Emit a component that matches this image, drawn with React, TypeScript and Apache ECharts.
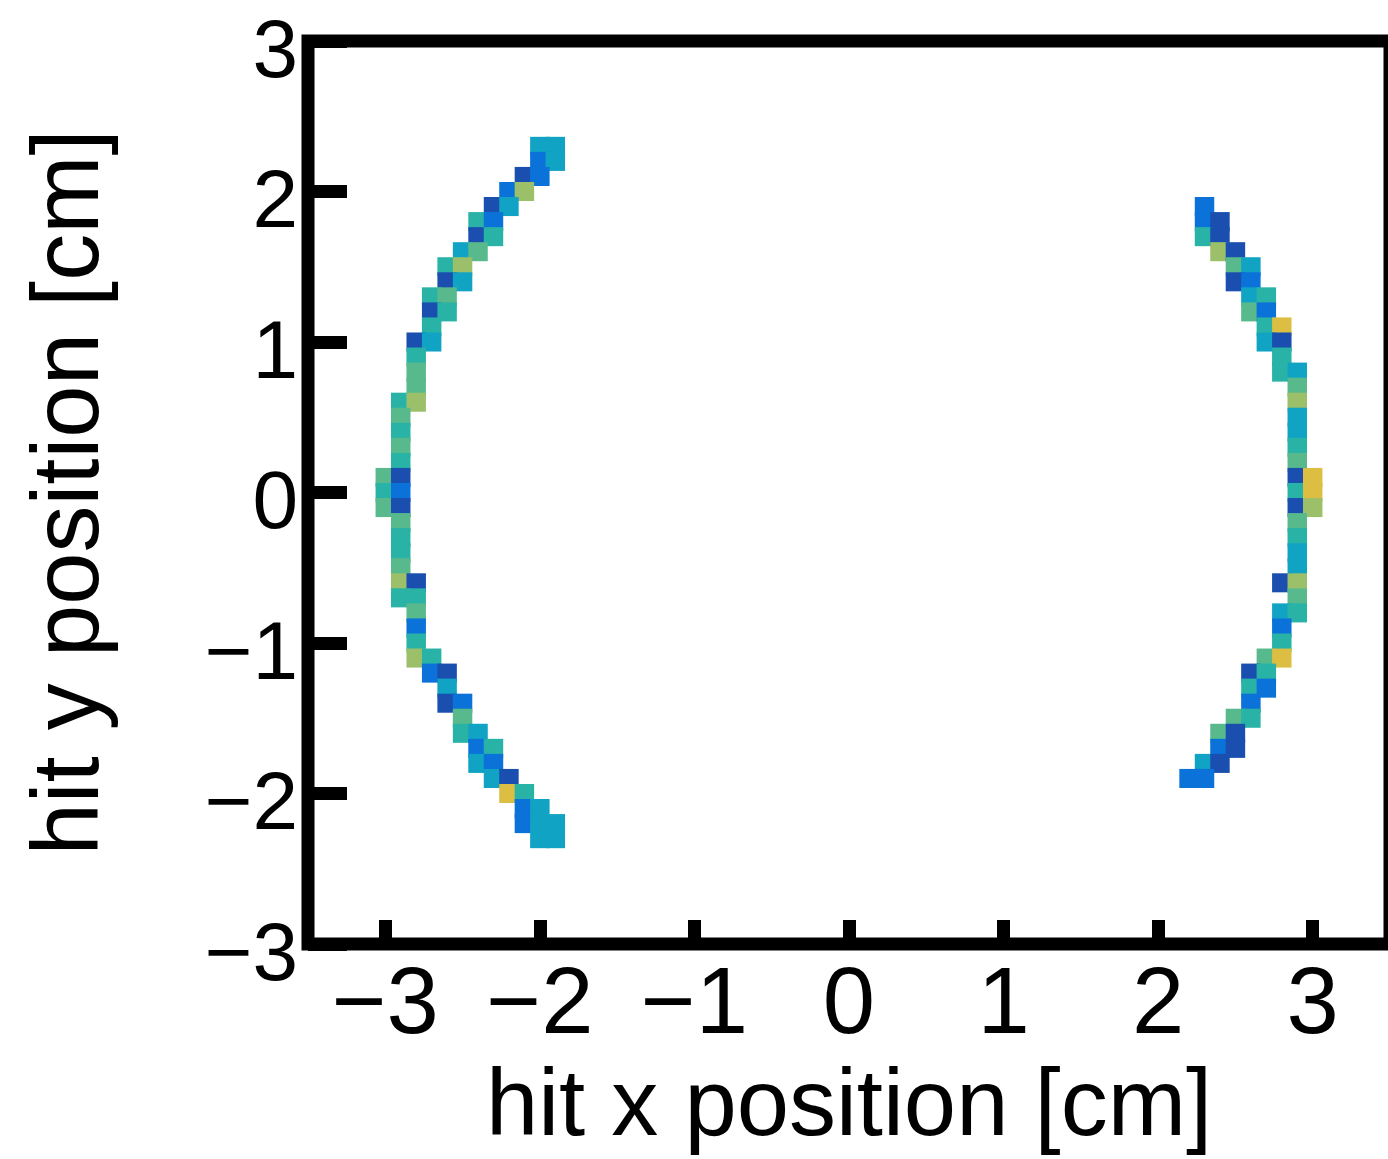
import React, { useEffect, useRef } from 'react';
import * as echarts from 'echarts';

// bin size of the 2D histogram (cm)
const BIN = 0.1;
const X_MIN = -3.5;
const X_MAX = 3.5;
const Y_MIN = -3;
const Y_MAX = 3;
const X_TICKS = [-3, -2, -1, 0, 1, 2, 3];
const Y_TICKS = [-3, -2, -1, 0, 1, 2, 3];
const X_TITLE = 'hit x position [cm]';
const Y_TITLE = 'hit y position [cm]';

// parula-like colour scale (low -> high counts)
const COLOR_STOPS = ['#1a4fb0', '#0a72d8', '#11a3c4', '#28b3a6', '#58ba8c', '#9cc06a', '#dcbf42', '#f2e02a'];
const VALUE_MIN = 1;
const VALUE_MAX = 8;

// [bin centre x, bin centre y, counts]
const leftArcCells: [number, number, number][] = [
  [-2.0, 2.3, 3], [-1.9, 2.3, 3],
  [-2.0, 2.2, 2], [-1.9, 2.2, 3],
  [-2.1, 2.1, 1], [-2.0, 2.1, 2],
  [-2.2, 2.0, 2], [-2.1, 2.0, 6],
  [-2.3, 1.9, 1], [-2.2, 1.9, 3],
  [-2.4, 1.8, 4], [-2.3, 1.8, 2],
  [-2.4, 1.7, 1], [-2.3, 1.7, 4],
  [-2.5, 1.6, 3], [-2.4, 1.6, 5],
  [-2.6, 1.5, 4], [-2.5, 1.5, 6],
  [-2.6, 1.4, 1], [-2.5, 1.4, 3],
  [-2.7, 1.3, 4], [-2.6, 1.3, 5],
  [-2.7, 1.2, 1], [-2.6, 1.2, 4],
  [-2.7, 1.1, 4],
  [-2.8, 1.0, 1], [-2.7, 1.0, 3],
  [-2.8, 0.9, 4],
  [-2.8, 0.8, 5],
  [-2.8, 0.7, 5],
  [-2.9, 0.6, 4], [-2.8, 0.6, 6],
  [-2.9, 0.5, 5],
  [-2.9, 0.4, 4],
  [-2.9, 0.3, 5],
  [-2.9, 0.2, 4],
  [-3.0, 0.1, 5], [-2.9, 0.1, 1],
  [-3.0, 0.0, 4], [-2.9, 0.0, 2],
  [-3.0, -0.1, 5], [-2.9, -0.1, 1],
  [-2.9, -0.2, 5],
  [-2.9, -0.3, 4],
  [-2.9, -0.4, 4],
  [-2.9, -0.5, 5],
  [-2.9, -0.6, 6], [-2.8, -0.6, 1],
  [-2.9, -0.7, 4], [-2.8, -0.7, 4],
  [-2.8, -0.8, 5],
  [-2.8, -0.9, 2],
  [-2.8, -1.0, 4],
  [-2.8, -1.1, 6], [-2.7, -1.1, 4],
  [-2.7, -1.2, 2], [-2.6, -1.2, 1],
  [-2.6, -1.3, 3],
  [-2.6, -1.4, 1], [-2.5, -1.4, 2],
  [-2.5, -1.5, 5],
  [-2.5, -1.6, 4], [-2.4, -1.6, 3],
  [-2.4, -1.7, 2], [-2.3, -1.7, 4],
  [-2.4, -1.8, 3], [-2.3, -1.8, 2],
  [-2.3, -1.9, 3], [-2.2, -1.9, 1],
  [-2.2, -2.0, 7], [-2.1, -2.0, 4],
  [-2.1, -2.1, 2], [-2.0, -2.1, 3],
  [-2.1, -2.2, 2], [-2.0, -2.2, 3], [-1.9, -2.2, 3],
  [-2.0, -2.3, 3], [-1.9, -2.3, 3],
];

const rightArcCells: [number, number, number][] = [
  [2.3, 1.9, 2],
  [2.3, 1.8, 2], [2.4, 1.8, 1],
  [2.3, 1.7, 4], [2.4, 1.7, 1],
  [2.4, 1.6, 6], [2.5, 1.6, 1],
  [2.5, 1.5, 5], [2.6, 1.5, 3],
  [2.5, 1.4, 1], [2.6, 1.4, 2],
  [2.6, 1.3, 3], [2.7, 1.3, 4],
  [2.6, 1.2, 5], [2.7, 1.2, 2],
  [2.7, 1.1, 4], [2.8, 1.1, 7],
  [2.7, 1.0, 3], [2.8, 1.0, 1],
  [2.8, 0.9, 4],
  [2.8, 0.8, 4], [2.9, 0.8, 3],
  [2.9, 0.7, 5],
  [2.9, 0.6, 6],
  [2.9, 0.5, 3],
  [2.9, 0.4, 3],
  [2.9, 0.3, 4],
  [2.9, 0.2, 5],
  [2.9, 0.1, 1], [3.0, 0.1, 7],
  [2.9, 0.0, 4], [3.0, 0.0, 7],
  [2.9, -0.1, 1], [3.0, -0.1, 6],
  [2.9, -0.2, 5],
  [2.9, -0.3, 4],
  [2.9, -0.4, 3],
  [2.9, -0.5, 3],
  [2.8, -0.6, 1], [2.9, -0.6, 6],
  [2.9, -0.7, 5],
  [2.8, -0.8, 3], [2.9, -0.8, 4],
  [2.8, -0.9, 2],
  [2.8, -1.0, 4],
  [2.7, -1.1, 5], [2.8, -1.1, 7],
  [2.6, -1.2, 1], [2.7, -1.2, 4],
  [2.6, -1.3, 4], [2.7, -1.3, 2],
  [2.6, -1.4, 2],
  [2.5, -1.5, 5], [2.6, -1.5, 4],
  [2.4, -1.6, 5], [2.5, -1.6, 1],
  [2.4, -1.7, 2], [2.5, -1.7, 1],
  [2.3, -1.8, 3], [2.4, -1.8, 1],
  [2.2, -1.9, 2], [2.3, -1.9, 2],
];

const FONT = '"Liberation Sans", Arial, Helvetica, sans-serif';
const fmt = (v: number) => (v < 0 ? '\u2212' + Math.abs(v) : String(v));

// cells are drawn slightly larger than the bin to mimic the soft edges of the original raster
const PAD = 2;
const renderCell = (_params: any, api: any) => {
  const cx = api.value(0) as number;
  const cy = api.value(1) as number;
  const a = api.coord([cx - BIN / 2, cy + BIN / 2]);
  const b = api.coord([cx + BIN / 2, cy - BIN / 2]);
  return {
    type: 'rect',
    shape: { x: a[0] - PAD, y: a[1] - PAD, width: b[0] - a[0] + 2 * PAD, height: b[1] - a[1] + 2 * PAD },
    style: { fill: api.visual('color') },
  };
};

export default function App() {
  const ref = useRef<HTMLDivElement>(null);

  useEffect(() => {
    if (!ref.current) return;
    const chart = echarts.init(ref.current, null, { renderer: 'svg' });
    chart.setOption({
      animation: false,
      backgroundColor: '#ffffff',
      grid: {
        left: 308,
        top: 41,
        width: 1082,
        height: 903,
        show: true,
        borderColor: '#000',
        borderWidth: 13,
        backgroundColor: 'transparent',
        containLabel: false,
      },
      visualMap: {
        show: false,
        type: 'continuous',
        min: VALUE_MIN,
        max: VALUE_MAX,
        dimension: 2,
        seriesIndex: [0, 1],
        inRange: { color: COLOR_STOPS },
      },
      xAxis: {
        type: 'value',
        min: X_MIN,
        max: X_MAX,
        position: 'bottom',
        name: X_TITLE,
        nameLocation: 'middle',
        nameGap: 111,
        nameTextStyle: { fontSize: 94, fontFamily: FONT, color: '#000' },
        axisLine: { show: false, onZero: false },
        axisTick: {
          show: true,
          inside: true,
          length: 24,
          customValues: X_TICKS,
          lineStyle: { color: '#000', width: 13 },
        },
        axisLabel: {
          customValues: X_TICKS,
          formatter: fmt,
          fontSize: 94,
          fontFamily: FONT,
          color: '#000',
          margin: 9,
        },
        splitLine: { show: false },
      },
      yAxis: {
        type: 'value',
        min: Y_MIN,
        max: Y_MAX,
        position: 'left',
        name: Y_TITLE,
        nameLocation: 'middle',
        nameGap: 196,
        nameTextStyle: { fontSize: 94, fontFamily: FONT, color: '#000' },
        axisLine: { show: false, onZero: false },
        axisTick: {
          show: true,
          inside: true,
          length: 39,
          customValues: Y_TICKS,
          lineStyle: { color: '#000', width: 13 },
        },
        axisLabel: {
          customValues: Y_TICKS,
          formatter: fmt,
          fontSize: 82,
          lineHeight: 14,
          verticalAlign: 'top',
          fontFamily: FONT,
          color: '#000',
          margin: 10,
        },
        splitLine: { show: false },
      },
      series: [
        {
          name: 'left arc',
          type: 'custom',
          renderItem: renderCell,
          encode: { x: 0, y: 1 },
          data: leftArcCells,
          clip: true,
        },
        {
          name: 'right arc',
          type: 'custom',
          renderItem: renderCell,
          encode: { x: 0, y: 1 },
          data: rightArcCells,
          clip: true,
        },
      ],
    });
    return () => chart.dispose();
  }, []);

  return (
    <div style={{ position: 'fixed', left: 0, top: 0, width: 1388, height: 1159, overflow: 'hidden', background: '#fff' }}>
      <div ref={ref} style={{ width: 1400, height: 1159 }} />
    </div>
  );
}
